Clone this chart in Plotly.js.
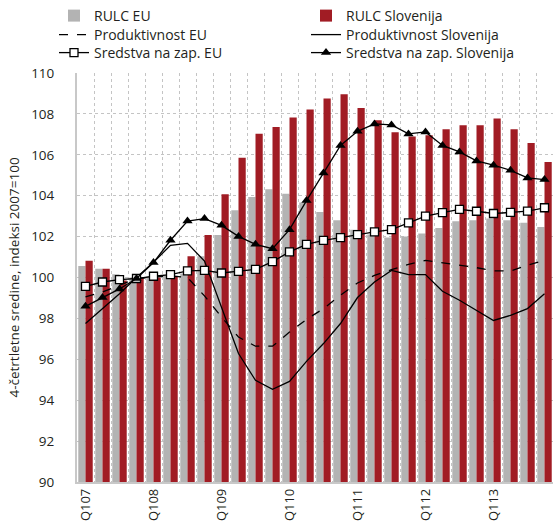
<!DOCTYPE html>
<html>
<head>
<meta charset="utf-8">
<script src="https://cdn.plot.ly/plotly-3.0.1.min.js"></script>
<style>html,body{margin:0;padding:0;background:#fff;}#chart{width:553px;height:526px;}</style>
</head>
<body>
<div id="chart"></div>
<script>
// Quarters Q1 2007 .. Q4 2013
const categories = [
  'Q107','Q207','Q307','Q407',
  'Q108','Q208','Q308','Q408',
  'Q109','Q209','Q309','Q409',
  'Q110','Q210','Q310','Q410',
  'Q111','Q211','Q311','Q411',
  'Q112','Q212','Q312','Q412',
  'Q113','Q213','Q313','Q413'
];
const rulcEU = [100.56,100.43,100.16,100.0,100.05,100.1,100.2,101.04,102.08,103.29,103.94,104.31,104.1,103.67,103.2,102.8,102.34,102.1,101.95,102.01,102.15,102.42,102.75,102.8,102.88,102.8,102.68,102.47];
const rulcSI = [100.82,100.43,99.85,100.0,100.0,100.05,101.04,102.08,104.07,105.85,107.03,107.36,107.82,108.22,108.75,108.96,108.29,107.69,107.1,106.9,106.95,107.25,107.44,107.44,107.77,107.25,106.58,105.65];
const prodEU = [99.05,99.29,99.62,99.95,100.02,100.08,100.0,99.1,98.07,97.09,96.64,96.64,97.33,97.95,98.48,99.13,99.73,100.1,100.38,100.64,100.84,100.73,100.6,100.48,100.32,100.32,100.6,100.84];
const prodSI = [97.75,98.48,99.21,100.0,100.75,101.57,101.67,100.8,98.56,96.28,94.97,94.53,94.92,95.9,96.77,97.75,99.02,99.78,100.35,100.14,100.14,99.33,98.89,98.4,97.9,98.15,98.48,99.21];
const sredEU = [99.57,99.78,99.9,99.95,100.06,100.14,100.32,100.35,100.22,100.3,100.4,100.78,101.25,101.62,101.82,101.95,102.1,102.23,102.34,102.67,103.0,103.17,103.33,103.24,103.13,103.18,103.25,103.41];
const sredSI = [98.59,99.02,99.44,99.95,100.73,101.82,102.76,102.88,102.55,102.01,101.62,101.41,102.34,103.76,105.11,106.46,107.15,107.51,107.46,107.02,107.12,106.46,106.14,105.7,105.49,105.24,104.87,104.79];

const seriesNames = ['RULC EU','RULC Slovenija','Produktivnost EU','Produktivnost Slovenija','Sredstva na zap. EU','Sredstva na zap. Slovenija'];
const yTitle = '4-četrtletne sredine, indeksi 2007=100';

const xIdx = categories.map((c, i) => i);
const tickIdx = xIdx.filter(i => categories[i].startsWith('Q1'));
const tickText = tickIdx.map(i => categories[i]);

const FONT = 'Open Sans, sans-serif';
const TXT = '#231f20';
const GRAY = '#b3b3b3';
const RED = '#a11c24';

const traces = [
  {type:'bar', name:seriesNames[0], legend:'legend', x:xIdx, y:rulcEU, marker:{color:GRAY}},
  {type:'bar', name:seriesNames[1], legend:'legend2', x:xIdx, y:rulcSI, marker:{color:RED}},
  {type:'scatter', mode:'lines', name:seriesNames[2], legend:'legend3', x:xIdx, y:prodEU, line:{color:'#000', width:1.3, dash:'dash'}},
  {type:'scatter', mode:'lines', name:seriesNames[3], legend:'legend4', x:xIdx, y:prodSI, line:{color:'#000', width:1.3}},
  {type:'scatter', mode:'lines+markers', name:seriesNames[4], legend:'legend5', x:xIdx, y:sredEU, line:{color:'#000', width:1.3},
    marker:{symbol:'square', size:8, color:'#fff', line:{color:'#000', width:1.3}}},
  {type:'scatter', mode:'lines+markers', name:seriesNames[5], legend:'legend6', x:xIdx, y:sredSI, line:{color:'#000', width:1.3},
    marker:{symbol:'triangle-up', size:9, color:'#000'}}
];

// plot area in pixels: left 77, width 476, bottom 482, height 409
function leg(xpx, ypx) {
  return {xref:'paper', yref:'paper', x:(xpx - 77)/476, y:(482 - ypx)/409, xanchor:'left', yanchor:'middle',
    orientation:'v', font:{family:FONT, size:14, color:TXT}, bgcolor:'rgba(0,0,0,0)', borderwidth:0};
}
const colL = 54, colR = 306;

const layout = {
  width:553, height:526,
  margin:{l:77, r:0, t:73, b:44, pad:0},
  paper_bgcolor:'#fff', plot_bgcolor:'#fff',
  font:{family:FONT, size:13, color:TXT},
  barmode:'group', bargap:0.15, bargroupgap:0,
  showlegend:true,
  legend:leg(colL, 16), legend2:leg(colR, 16),
  legend3:leg(colL, 35), legend4:leg(colR, 35),
  legend5:leg(colL, 53), legend6:leg(colR, 53),
  xaxis:{
    range:[-0.5, 27.5], tickmode:'array', tickvals:tickIdx, ticktext:tickText,
    tickangle:-90, showgrid:false, zeroline:false,
    showline:true, linecolor:'#c8c8c8', linewidth:1.5,
    ticks:'', tickfont:{family:FONT, size:13, color:TXT},
    minor:{tick0:0.5, dtick:1, showgrid:true, gridcolor:'#c4c4c4', griddash:'dot', gridwidth:1, ticks:''}
  },
  yaxis:{
    range:[90,110], dtick:2, tick0:90, showgrid:true, gridcolor:'#c4c4c4', griddash:'dot', gridwidth:1,
    zeroline:false, showline:true, linecolor:'#c8c8c8', linewidth:2,
    ticks:'', ticklabelstandoff:18, tickfont:{family:FONT, size:13.5, color:TXT},
    title:{text:yTitle, font:{family:FONT, size:13.5, color:TXT}, standoff:8}
  }
};

Plotly.newPlot('chart', traces, layout, {displayModeBar:false, staticPlot:true});
</script>
</body>
</html>
